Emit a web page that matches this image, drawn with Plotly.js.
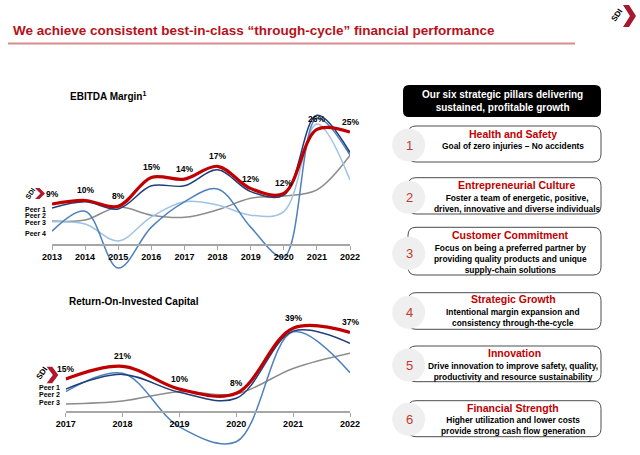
<!DOCTYPE html>
<html>
<head>
<meta charset="utf-8">
<script src="https://cdn.plot.ly/plotly-3.0.1.min.js"></script>
<style>html,body{margin:0;padding:0;background:#fff;}#chart{width:640px;height:455px;}</style>
</head>
<body>
<div id="chart"></div>
<script>
// ---------- data ----------
const ebitdaYears = [2013, 2014, 2015, 2016, 2017, 2018, 2019, 2020, 2021, 2022];
const ebitdaSDI   = [9.0, 9.8, 8.5, 15.0, 14.6, 17.5, 12.5, 11.4, 25.8, 25.2];
const ebitdaLabels = ["9%", "10%", "8%", "15%", "14%", "17%", "12%", "12%", "26%", "25%"];
const ebitdaPeer1 = [8.1, 9.5, 7.9, 13.1, 13.1, 16.7, 11.8, 11.0, 29.0, 20.6];
const ebitdaPeer2 = [5.2, 5.4, 8.3, 6.5, 6.0, 7.7, 10.3, 10.8, 12.2, 20.0];
const ebitdaPeer3 = [5.0, 4.5, 0.7, 6.1, 9.5, 8.8, 6.5, 7.3, 27.0, 14.4];
const ebitdaPeer4 = [2.9, 7.4, -5.4, 3.8, 9.5, 12.4, 3.8, -2.9, 28.3, 20.0];

const roicYears = [2017, 2018, 2019, 2020, 2021, 2022];
const roicSDI   = [15.0, 21.0, 10.3, 8.3, 38.9, 36.9];
const roicLabels = ["15%", "21%", "10%", "8%", "39%", "37%"];
const roicPeer1 = [10.3, 17.2, 8.8, 6.0, 37.5, 31.8];
const roicPeer2 = [9.1, 17.7, -7.4, -14.4, 37.2, 18.0];
const roicPeer3 = [3.3, 4.7, 9.1, 8.0, 20.0, 27.1];

const ebitdaPeerNames = ["Peer 1", "Peer 2", "Peer 3", "Peer 4"];
const roicPeerNames = ["Peer 1", "Peer 2", "Peer 3"];

const slideTitle = "We achieve consistent best-in-class \u201cthrough-cycle\u201d financial performance";
const headerText = "Our six strategic pillars delivering<br>sustained, profitable growth";
const pillarTitles = ["Health and Safety", "Entrepreneurial Culture", "Customer Commitment",
                      "Strategic Growth", "Innovation", "Financial Strength"];
const pillarTexts = [
  "Goal of zero injuries \u2013 No accidents",
  "Foster a team of energetic, positive,<br>driven, innovative and diverse individuals",
  "Focus on being a preferred partner by<br>providing quality products and unique<br>supply-chain solutions",
  "Intentional margin expansion and<br>consistency through-the-cycle",
  "Drive innovation to improve safety, quality,<br>productivity and resource sustainability",
  "Higher utilization and lower costs<br>provide strong cash flow generation"
];

// ---------- helpers ----------
const W = 640, H = 455;
const X = p => p / W;
const Y = p => 1 - p / H;
const FONT = "Liberation Sans, Arial, sans-serif";
const RED = "#c00000";
const NAVY = "#1f3d7a", GRAY = "#8c8c8c", LIGHT = "#9dc3e6", STEEL = "#4f81bd";

function roundRect(x0, y0, x1, y1, r) {
  const p = (x, y) => X(x) + "," + Y(y);
  return "M" + p(x0 + r, y0) + " L" + p(x1 - r, y0) + " Q" + p(x1, y0) + " " + p(x1, y0 + r) +
         " L" + p(x1, y1 - r) + " Q" + p(x1, y1) + " " + p(x1 - r, y1) +
         " L" + p(x0 + r, y1) + " Q" + p(x0, y1) + " " + p(x0, y1 - r) +
         " L" + p(x0, y0 + r) + " Q" + p(x0, y0) + " " + p(x0 + r, y0) + " Z";
}
function polyPath(pts) {
  return "M" + pts.map(q => X(q[0]) + "," + Y(q[1])).join(" L") + " Z";
}
function chevron(x0, y0, w, h, arm) {
  const ym = y0 + h / 2;
  return polyPath([[x0, y0], [x0 + arm, y0], [x0 + w, ym], [x0 + arm, y0 + h], [x0, y0 + h], [x0 + w - arm, ym]]);
}

// ---------- traces ----------
function line(x, y, color, width, xa, ya) {
  return {x: x, y: y, type: "scatter", mode: "lines", xaxis: xa, yaxis: ya,
          line: {color: color, width: width, shape: "spline", smoothing: 1.0},
          hoverinfo: "skip", showlegend: false};
}
const traces = [
  line(ebitdaYears, ebitdaPeer2, GRAY, 1.5, "x", "y"),
  line(ebitdaYears, ebitdaPeer3, LIGHT, 1.5, "x", "y"),
  line(ebitdaYears, ebitdaPeer4, STEEL, 1.5, "x", "y"),
  line(ebitdaYears, ebitdaPeer1, NAVY, 1.5, "x", "y"),
  line(ebitdaYears, ebitdaSDI, RED, 3.2, "x", "y"),
  line(roicYears, roicPeer3, GRAY, 1.5, "x2", "y2"),
  line(roicYears, roicPeer2, STEEL, 1.5, "x2", "y2"),
  line(roicYears, roicPeer1, NAVY, 1.5, "x2", "y2"),
  line(roicYears, roicSDI, RED, 3.2, "x2", "y2")
];

// ---------- annotations ----------
const ann = [];
function txt(x, y, text, size, color, opts) {
  ann.push(Object.assign({xref: "paper", yref: "paper", x: X(x), y: Y(y), text: text,
    showarrow: false, xanchor: "center", yanchor: "middle",
    font: {family: FONT, size: size, color: color, weight: 700}}, opts || {}));
}
txt(11, 31, slideTitle, 13.5, "#b5121b", {xanchor: "left"});
txt(68, 96, "EBITDA Margin<sup>1</sup>", 10, "#000", {xanchor: "left"});
txt(67, 301, "Return-On-Invested Capital", 10, "#000", {xanchor: "left"});

// data labels
ebitdaYears.forEach((yr, i) => ann.push({xref: "x", yref: "y", x: yr, y: ebitdaSDI[i], yshift: 10,
  text: ebitdaLabels[i], showarrow: false, font: {family: FONT, size: 8.5, color: "#000", weight: 700}}));
roicYears.forEach((yr, i) => ann.push({xref: "x2", yref: "y2", x: yr, y: roicSDI[i], yshift: 10,
  text: roicLabels[i], showarrow: false, font: {family: FONT, size: 8.5, color: "#000", weight: 700}}));

// peer labels
const ebitdaPeerY = [209.3, 215.5, 222.3, 233.3];
ebitdaPeerNames.forEach((n, i) => txt(23.3, ebitdaPeerY[i], n, 7, "#000", {xanchor: "left"}));
const roicPeerY = [387.3, 394.7, 402];
roicPeerNames.forEach((n, i) => txt(36.7, roicPeerY[i], n, 7, "#000", {xanchor: "left"}));

// logo texts
txt(30, 193, "SDI", 7, "#000", {textangle: -55});
txt(41.5, 373, "SDI", 8, "#000", {textangle: -55});
txt(617, 16, "SDI", 8, "#000", {textangle: -55});

// right panel
txt(502, 101, headerText, 10, "#fff");
const boxY = [[126, 162], [177.7, 214], [227.3, 275], [292.7, 329.3], [346, 381.7], [400.7, 436.7]];
const circY = [145, 197.3, 253.3, 312.3, 365, 419.3];
const titleY = [134, 185, 235, 299, 353.3, 407.7];
const titleX = [513, 516, 510, 513, 514, 513];
const descY = [146, 203.3, 258.6, 317, 371.3, 425.3];
const descX = [513, 516.7, 510, 513, 513, 513];
pillarTitles.forEach((t, i) => {
  txt(titleX[i], titleY[i], t, 10.5, RED);
  txt(descX[i], descY[i], pillarTexts[i], 8.4, "#000");
  txt(409, circY[i], String(i + 1), 13, "#c23a2e", {font: {family: FONT, size: 13, color: "#c23a2e", weight: 400}});
});

// ---------- shapes ----------
const shapes = [];
shapes.push({type: "line", xref: "paper", yref: "paper", x0: X(8), x1: X(575), y0: Y(43.5), y1: Y(43.5),
             line: {color: "#d98c8c", width: 2}});
shapes.push({type: "path", xref: "paper", yref: "paper", path: roundRect(403, 85, 601, 117, 6),
             fillcolor: "#000", line: {width: 0}});
boxY.forEach((b, i) => {
  shapes.push({type: "path", xref: "paper", yref: "paper", path: roundRect(408, b[0], 601, b[1], 8),
               fillcolor: "#fff", line: {color: "#4d4d4d", width: 1}});
});
circY.forEach(cy => {
  shapes.push({type: "circle", xref: "paper", yref: "paper", x0: X(392.2), x1: X(425.2),
               y0: Y(cy + 16.5), y1: Y(cy - 16.5), fillcolor: "#efefef", line: {width: 0}});
});
shapes.push({type: "path", xref: "paper", yref: "paper", path: chevron(35, 188, 10, 11, 4.5),
             fillcolor: "#b0182d", line: {width: 0}});
shapes.push({type: "path", xref: "paper", yref: "paper", path: chevron(46.7, 366.7, 11.6, 16.6, 5.5),
             fillcolor: "#b0182d", line: {width: 0}});
shapes.push({type: "path", xref: "paper", yref: "paper", path: chevron(623, 5, 13, 22, 6),
             fillcolor: "#a5192e", line: {width: 0}});

// ---------- axes ----------
const tickFont = {family: FONT, size: 9, color: "#000", weight: 700};
function xAxis(domain, range, vals, pos) {
  return {domain: domain, range: range, anchor: "free", position: pos, tickmode: "array",
          tickvals: vals, ticktext: vals.map(String), ticks: "outside", ticklen: 4, tickcolor: "#a6a6a6",
          showline: true, linecolor: "#a6a6a6", linewidth: 1.5, showgrid: false, zeroline: false,
          tickfont: tickFont, fixedrange: true};
}
const layout = {
  width: W, height: H, margin: {l: 0, r: 0, t: 0, b: 0, pad: 0},
  paper_bgcolor: "#fff", plot_bgcolor: "rgba(0,0,0,0)", showlegend: false,
  xaxis: xAxis([X(52), X(350)], [2013, 2022], ebitdaYears, Y(244)),
  yaxis: {domain: [Y(275.1), Y(101.9)], range: [-7, 32], visible: false, fixedrange: true},
  xaxis2: xAxis([X(65.7), X(350)], [2017, 2022], roicYears, Y(411)),
  yaxis2: {domain: [Y(451.5), Y(317.3)], range: [-19, 44], visible: false, fixedrange: true},
  annotations: ann,
  shapes: shapes
};
Plotly.newPlot("chart", traces, layout, {displayModeBar: false, staticPlot: true});
</script>
</body>
</html>
